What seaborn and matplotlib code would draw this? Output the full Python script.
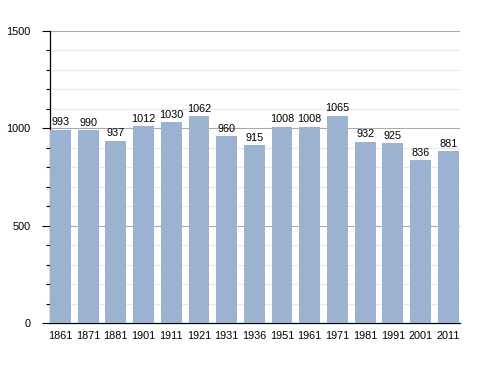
import matplotlib
matplotlib.use("Agg")
import matplotlib.pyplot as plt
import seaborn as sns
import pandas as pd
from matplotlib.ticker import MultipleLocator

years = ['1861', '1871', '1881', '1901', '1911', '1921', '1931', '1936',
         '1951', '1961', '1971', '1981', '1991', '2001', '2011']
population = [993, 990, 937, 1012, 1030, 1062, 960, 915,
              1008, 1008, 1065, 932, 925, 836, 881]

df = pd.DataFrame({'year': years, 'pop': population})

sns.set_style('white')
plt.rcParams['font.family'] = ['Liberation Sans', 'DejaVu Sans']
plt.rcParams['text.color'] = 'black'
plt.rcParams['xtick.color'] = 'black'
plt.rcParams['ytick.color'] = 'black'

fig = plt.figure(figsize=(4.88, 3.73), dpi=100)
ax = fig.add_axes([0.1025, 0.134, 0.84, 0.783])

sns.barplot(data=df, x='year', y='pop', color='#9bb3d1', saturation=1,
            width=0.75, linewidth=0, ax=ax, zorder=3)

for i, v in enumerate(population):
    ax.text(i, v + 12, str(v), ha='center', va='bottom', fontsize=7.8, zorder=4)

ax.set_ylim(0, 1500)
ax.set_xlim(-0.375, 14.42)
ax.yaxis.set_major_locator(MultipleLocator(500))
ax.yaxis.set_minor_locator(MultipleLocator(100))
ax.grid(axis='y', which='major', color='#aaaaaa', linewidth=0.8, zorder=1)
ax.grid(axis='y', which='minor', color='#e8e8e8', linewidth=0.8, zorder=1)
ax.set_axisbelow(True)

for s in ['top', 'right']:
    ax.spines[s].set_visible(False)
for s in ['left', 'bottom']:
    ax.spines[s].set_color('black')
    ax.spines[s].set_linewidth(0.9)

ax.tick_params(axis='y', which='major', left=True, length=6, width=0.8,
               labelsize=7.8, pad=8)
ax.tick_params(axis='y', which='minor', left=True, length=3, width=0.8)
ax.tick_params(axis='x', bottom=False, labelsize=7.8, pad=2)
ax.set_xlabel('')
ax.set_ylabel('')

fig.savefig('out.png', dpi=100)
